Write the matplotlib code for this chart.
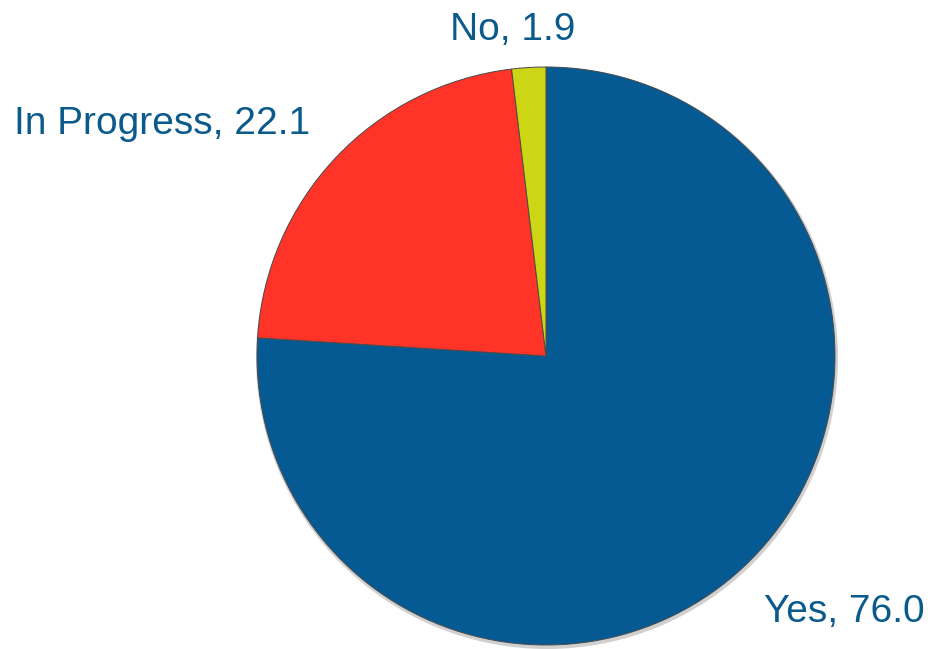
import matplotlib.pyplot as plt

categories = ['Yes', 'In Progress', 'No']
values = [76.0, 22.1, 1.9]
colors = ['#055A94', '#FF3328', '#CDD614']
text_color = '#0B5A8C'

plt.rcParams['font.family'] = ['Liberation Sans', 'DejaVu Sans']

fig = plt.figure(figsize=(9.30, 6.49), dpi=100)
ax = fig.add_axes([0, 0, 1, 1])

# faint shadow under the pie
ax.pie([1], radius=291, center=(547, 291), colors=['#d0d0d0'],
       wedgeprops=dict(linewidth=0), frame=True)
wedges, _ = ax.pie(values, colors=colors, startangle=90, counterclock=False,
                   radius=289, center=(546, 293), frame=True,
                   wedgeprops=dict(edgecolor='#4a4a4a', linewidth=0.7))
ax.set_xlim(0, 930)
ax.set_ylim(0, 649)
ax.set_aspect('equal')
ax.axis('off')

# data labels
label_pos = [(925, 37, 'right'), (14, 525, 'left'), (513, 619, 'center')]
for cat, val, (x, y, ha) in zip(categories, values, label_pos):
    ax.text(x, y, f'{cat}, {val:.1f}', color=text_color, fontsize=28,
            ha=ha, va='center')

fig.savefig('out.png', dpi=100)
